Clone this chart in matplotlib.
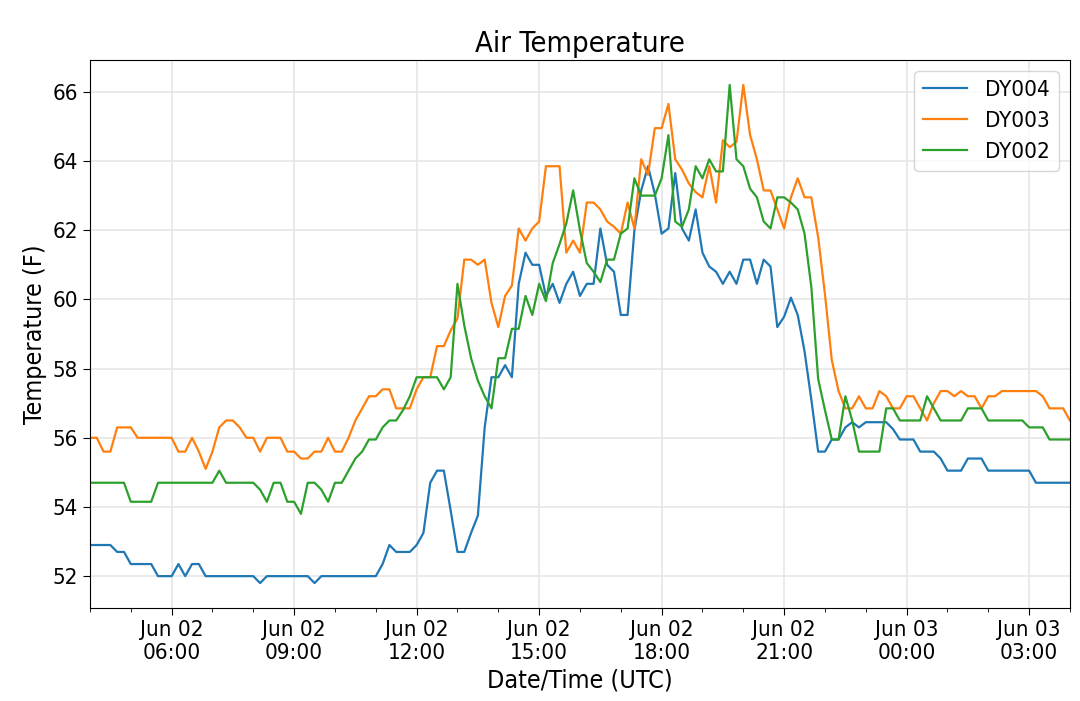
import matplotlib
matplotlib.use("Agg")
import matplotlib.pyplot as plt
import matplotlib.dates as mdates
import pandas as pd

# 10-minute readings, Jun 02 04:00 UTC to Jun 03 04:00 UTC
times = pd.date_range("2018-06-02 04:00", periods=145, freq="10min")

dy004 = [52.9, 52.9, 52.9, 52.9, 52.7, 52.7, 52.35, 52.35, 52.35, 52.35,
         52.0, 52.0, 52.0, 52.35, 52.0, 52.35, 52.35, 52.0, 52.0, 52.0,
         52.0, 52.0, 52.0, 52.0, 52.0, 51.8, 52.0, 52.0, 52.0, 52.0,
         52.0, 52.0, 52.0, 51.8, 52.0, 52.0, 52.0, 52.0, 52.0, 52.0,
         52.0, 52.0, 52.0, 52.35, 52.9, 52.7, 52.7, 52.7, 52.9, 53.25,
         54.7, 55.05, 55.05, 53.9, 52.7, 52.7, 53.25, 53.75, 56.3, 57.75,
         57.75, 58.1, 57.75, 60.45, 61.35, 61.0, 61.0, 60.1, 60.45, 59.9,
         60.45, 60.8, 60.1, 60.45, 60.45, 62.05, 61.0, 60.8, 59.55, 59.55,
         62.0, 63.15, 63.85, 63.05, 61.9, 62.05, 63.65, 62.05, 61.7, 62.6,
         61.35, 60.95, 60.8, 60.45, 60.8, 60.45, 61.15, 61.15, 60.45, 61.15,
         60.95, 59.2, 59.5, 60.05, 59.55, 58.5, 57.1, 55.6, 55.6, 55.95,
         55.95, 56.3, 56.45, 56.3, 56.45, 56.45, 56.45, 56.45, 56.25, 55.95,
         55.95, 55.95, 55.6, 55.6, 55.6, 55.4, 55.05, 55.05, 55.05, 55.4,
         55.4, 55.4, 55.05, 55.05, 55.05, 55.05, 55.05, 55.05, 55.05, 54.7,
         54.7, 54.7, 54.7, 54.7, 54.7]

dy003 = [56.0, 56.0, 55.6, 55.6, 56.3, 56.3, 56.3, 56.0, 56.0, 56.0,
         56.0, 56.0, 56.0, 55.6, 55.6, 56.0, 55.6, 55.1, 55.6, 56.3,
         56.5, 56.5, 56.3, 56.0, 56.0, 55.6, 56.0, 56.0, 56.0, 55.6,
         55.6, 55.4, 55.4, 55.6, 55.6, 56.0, 55.6, 55.6, 56.0, 56.5,
         56.85, 57.2, 57.2, 57.4, 57.4, 56.85, 56.85, 56.85, 57.4, 57.75,
         57.75, 58.65, 58.65, 59.1, 59.45, 61.15, 61.15, 61.0, 61.15, 59.9,
         59.2, 60.1, 60.4, 62.05, 61.7, 62.05, 62.25, 63.85, 63.85, 63.85,
         61.35, 61.7, 61.35, 62.8, 62.8, 62.6, 62.25, 62.1, 61.9, 62.8,
         62.05, 64.05, 63.6, 64.95, 64.95, 65.65, 64.05, 63.75, 63.35, 63.1,
         62.95, 63.85, 62.8, 64.6, 64.4, 64.55, 66.2, 64.75, 64.05, 63.15,
         63.15, 62.6, 62.05, 62.95, 63.5, 62.95, 62.95, 61.8, 60.15, 58.25,
         57.35, 56.85, 56.85, 57.2, 56.85, 56.85, 57.35, 57.2, 56.85, 56.85,
         57.2, 57.2, 56.85, 56.5, 57.0, 57.35, 57.35, 57.2, 57.35, 57.2,
         57.2, 56.85, 57.2, 57.2, 57.35, 57.35, 57.35, 57.35, 57.35, 57.35,
         57.2, 56.85, 56.85, 56.85, 56.5]

dy002 = [54.7, 54.7, 54.7, 54.7, 54.7, 54.7, 54.15, 54.15, 54.15, 54.15,
         54.7, 54.7, 54.7, 54.7, 54.7, 54.7, 54.7, 54.7, 54.7, 55.05,
         54.7, 54.7, 54.7, 54.7, 54.7, 54.5, 54.15, 54.7, 54.7, 54.15,
         54.15, 53.8, 54.7, 54.7, 54.5, 54.15, 54.7, 54.7, 55.05, 55.4,
         55.6, 55.95, 55.95, 56.3, 56.5, 56.5, 56.8, 57.2, 57.75, 57.75,
         57.75, 57.75, 57.4, 57.75, 60.45, 59.25, 58.3, 57.65, 57.2, 56.85,
         58.3, 58.3, 59.15, 59.15, 60.1, 59.55, 60.45, 59.95, 61.05, 61.6,
         62.2, 63.15, 62.0, 61.05, 60.8, 60.5, 61.15, 61.15, 61.9, 62.05,
         63.5, 63.0, 63.0, 63.0, 63.5, 64.75, 62.25, 62.1, 62.6, 63.85,
         63.5, 64.05, 63.7, 63.7, 66.2, 64.05, 63.85, 63.2, 62.95, 62.25,
         62.05, 62.95, 62.95, 62.8, 62.6, 61.9, 60.35, 57.7, 56.8, 55.95,
         55.95, 57.2, 56.5, 55.6, 55.6, 55.6, 55.6, 56.85, 56.85, 56.5,
         56.5, 56.5, 56.5, 57.2, 56.85, 56.5, 56.5, 56.5, 56.5, 56.85,
         56.85, 56.85, 56.5, 56.5, 56.5, 56.5, 56.5, 56.5, 56.3, 56.3,
         56.3, 55.95, 55.95, 55.95, 55.95]

plt.rcParams['font.stretch'] = 'condensed'

fig = plt.figure(figsize=(10.8, 7.01), dpi=100)
ax = fig.add_subplot(111)
fig.subplots_adjust(left=0.0833, right=0.9907, top=0.9144, bottom=0.1327)

ax.plot(times, dy004, color='#1f77b4', lw=1.6, label='DY004')
ax.plot(times, dy003, color='#ff7f0e', lw=1.6, label='DY003')
ax.plot(times, dy002, color='#2ca02c', lw=1.6, label='DY002')

ax.set_xlim(times[0], times[-1])
ax.xaxis.set_major_locator(mdates.HourLocator(byhour=range(0, 24, 3)))
ax.xaxis.set_minor_locator(mdates.HourLocator())
ax.xaxis.set_major_formatter(mdates.DateFormatter('%b %d\n%H:%M'))
ax.set_yticks([52, 54, 56, 58, 60, 62, 64, 66])

ax.grid(True, which='major', color='#e6e6e6', lw=1.2)
ax.tick_params(axis='both', which='major', labelsize=16, length=5)
ax.tick_params(axis='x', which='minor', length=3)

ax.set_title('Air Temperature', fontsize=21)
ax.set_xlabel('Date/Time (UTC)', fontsize=18)
ax.set_ylabel('Temperature (F)', fontsize=18)
ax.legend(loc='upper right', fontsize=16)

plt.savefig('out.png', dpi=100)
